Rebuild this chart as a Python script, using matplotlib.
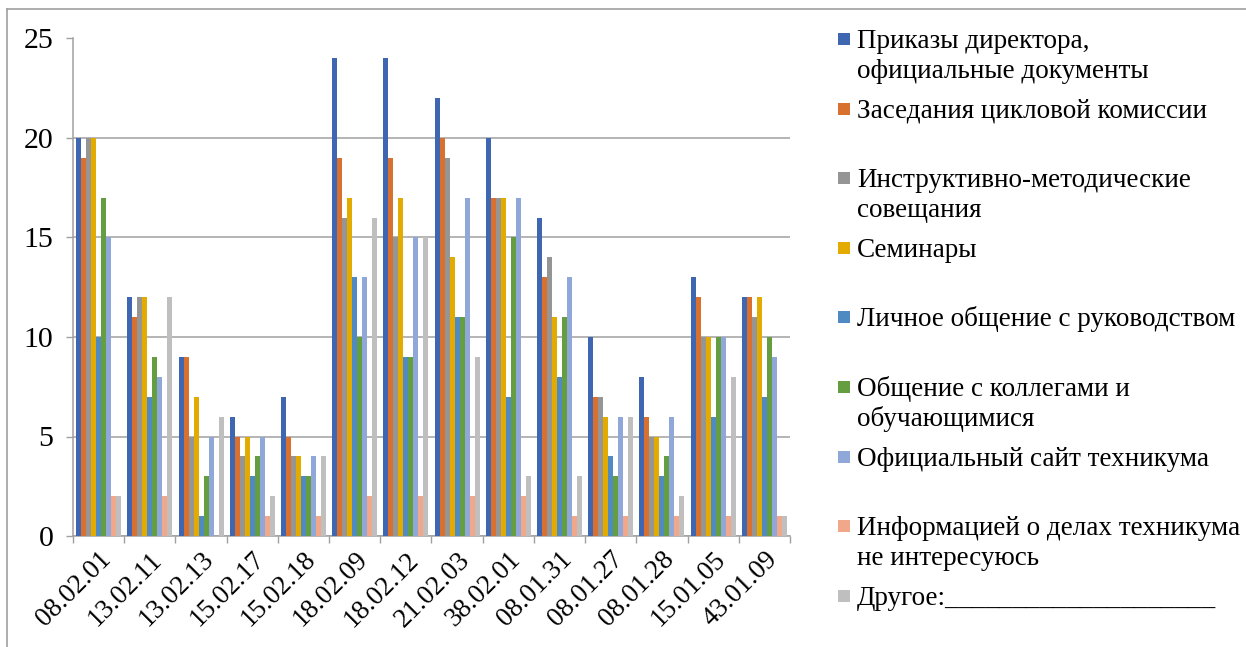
import matplotlib
matplotlib.use("Agg")
import matplotlib.pyplot as plt
from matplotlib.lines import Line2D
from matplotlib.patches import Rectangle
import numpy as np

categories = ["08.02.01", "13.02.11", "13.02.13", "15.02.17", "15.02.18", "18.02.09",
              "18.02.12", "21.02.03", "38.02.01", "08.01.31", "08.01.27", "08.01.28",
              "15.01.05", "43.01.09"]

series_names = [
    ["Приказы директора,", "официальные документы"],
    ["Заседания цикловой комиссии"],
    ["Инструктивно-методические", "совещания"],
    ["Семинары"],
    ["Личное общение с руководством"],
    ["Общение с коллегами и", "обучающимися"],
    ["Официальный сайт техникума"],
    ["Информацией о делах техникума", "не интересуюсь"],
    ["Другое:____________________"],
]

prikazy      = [20, 12, 9, 6, 7, 24, 24, 22, 20, 16, 10, 8, 13, 12]
zasedaniya   = [19, 11, 9, 5, 5, 19, 19, 20, 17, 13, 7, 6, 12, 12]
instruktivno = [20, 12, 5, 4, 4, 16, 15, 19, 17, 14, 7, 5, 10, 11]
seminary     = [20, 12, 7, 5, 4, 17, 17, 14, 17, 11, 6, 5, 10, 12]
lichnoe      = [10, 7, 1, 3, 3, 13, 9, 11, 7, 8, 4, 3, 6, 7]
obschenie    = [17, 9, 3, 4, 3, 10, 9, 11, 15, 11, 3, 4, 10, 10]
sayt         = [15, 8, 5, 5, 4, 13, 15, 17, 17, 13, 6, 6, 10, 9]
ne_interes   = [2, 2, 0, 1, 1, 2, 2, 2, 2, 1, 1, 1, 1, 1]
drugoe       = [2, 12, 6, 2, 4, 16, 15, 9, 3, 3, 6, 2, 8, 1]

y_ticks = [0, 5, 10, 15, 20, 25]

series = [prikazy, zasedaniya, instruktivno, seminary, lichnoe, obschenie, sayt, ne_interes, drugoe]
colors = ["#3F67B1", "#D8702F", "#959595", "#E3AA00", "#508AC3", "#659E41",
          "#8FA7D9", "#F0A78A", "#BFBFBF"]

plt.rcParams['font.family'] = ['Liberation Serif', 'DejaVu Serif']

W, H = 1246, 647
fig = plt.figure(figsize=(W / 100, H / 100), dpi=100)
ax = fig.add_axes([73 / W, 1 - 536 / H, (790 - 73) / W, (536 - 38.5) / H])

n = len(series)
x = np.arange(len(categories))
group_w = 0.88
bw = group_w / n
for i, (vals, c) in enumerate(zip(series, colors)):
    ax.bar(x - group_w / 2 + bw * (i + 0.5), vals, width=bw, color=c, zorder=3, linewidth=0)

ax.set_xlim(-0.5, len(categories) - 0.5)
ax.set_ylim(0, 25)
ax.set_yticks(y_ticks)
ax.set_yticklabels([str(v) for v in y_ticks], fontsize=21.5)
ax.yaxis.grid(True, color="#A0A0A0", linewidth=1.1, zorder=0)
ax.tick_params(axis='y', length=5, width=1, color="#A0A0A0", pad=9)

ax.set_xticks(np.arange(len(categories) + 1) - 0.5)
ax.set_xticklabels([])
ax.tick_params(axis='x', which='major', length=5, width=1, color="#A0A0A0")
ax.set_xticks(x, minor=True)
ax.set_xticklabels(categories, minor=True, fontsize=19.5, rotation=45, ha='right',
                   va='top', rotation_mode='anchor')
ax.tick_params(axis='x', which='minor', length=0, pad=8)

for s in ['top', 'right']:
    ax.spines[s].set_visible(False)
for s in ['left', 'bottom']:
    ax.spines[s].set_color("#A0A0A0")
    ax.spines[s].set_linewidth(1.1)

# legend (manual layout matching reference)
for i, (lines, c) in enumerate(zip(series_names, colors)):
    base = 48 + 69.6 * i
    fig.add_artist(Rectangle((838 / W, 1 - (base - 3) / H), 12 / W, 12 / H,
                             transform=fig.transFigure, color=c, linewidth=0))
    for j, line in enumerate(lines):
        fig.text(857 / W, 1 - (base + 30 * j) / H, line, fontsize=19.5,
                 ha='left', va='baseline')

# outer frame
fig.add_artist(Line2D([7 / W, 7 / W], [0, 1 - 9 / H], transform=fig.transFigure,
                      color="#A0A0A0", linewidth=1.2))
fig.add_artist(Line2D([7 / W, 1], [1 - 9 / H, 1 - 9 / H], transform=fig.transFigure,
                      color="#A0A0A0", linewidth=1.2))

fig.savefig("out.png", dpi=100)
